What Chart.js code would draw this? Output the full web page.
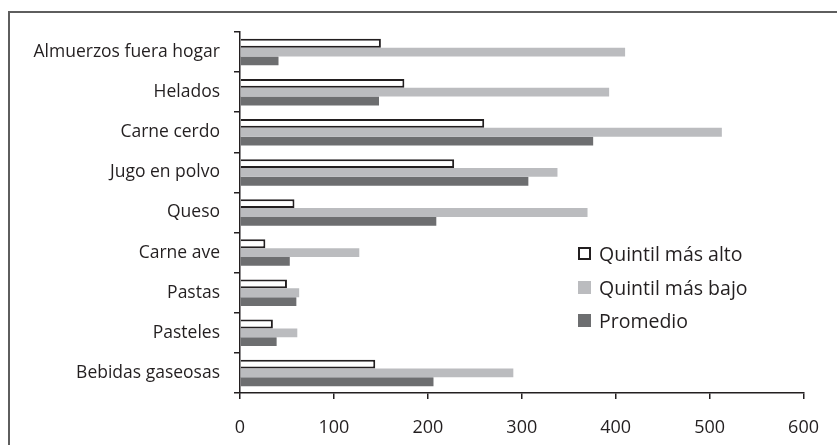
<!DOCTYPE html>
<html lang="es">
<head>
    <meta charset="UTF-8">
    <title>Gasto por producto</title>
    <script src="https://cdn.jsdelivr.net/npm/chart.js"></script>
    <style>
        body {
            margin: 0;
            background-color: #fff;
            font-family: "Open Sans", sans-serif;
            overflow: hidden;
        }
        .wrap {
            position: relative;
            width: 837px;
            height: 445px;
        }
        .frame {
            position: absolute;
            left: 8px;
            top: 11px;
            width: 900px;
            height: 500px;
            border: 2px solid #5e5e5e;
        }
        canvas {
            position: absolute;
            left: 0;
            top: 0;
        }
        .legend {
            position: absolute;
            left: 578px;
            top: 237px;
            color: #231f20;
            font-size: 19.5px;
        }
        .legend div {
            display: flex;
            align-items: center;
            height: 33.5px;
        }
        .legend span.box {
            display: inline-block;
            width: 13px;
            height: 13px;
            margin-right: 8px;
            box-sizing: border-box;
        }
    </style>
</head>
<body>
    <div class="wrap">
        <div class="frame"></div>
        <canvas id="chart" width="837" height="445"></canvas>
        <div class="legend" id="legend"></div>
    </div>

    <script>
        // data
        var categories = ['Almuerzos fuera hogar', 'Helados', 'Carne cerdo', 'Jugo en polvo', 'Queso',
                          'Carne ave', 'Pastas', 'Pasteles', 'Bebidas gaseosas'];
        var quintilAlto = [150, 175, 260, 228, 58, 27, 50, 35, 144];
        var quintilBajo = [410, 393, 513, 338, 370, 127, 63, 61, 291];
        var promedio = [41, 148, 376, 307, 209, 53, 60, 39, 206];
        var xTicks = [0, 100, 200, 300, 400, 500, 600];

        var textColor = '#231f20';
        var font = { family: '"Open Sans", sans-serif', size: 17.5 };

        var datasets = [
            { label: 'Quintil más alto', data: quintilAlto, backgroundColor: '#ffffff', borderColor: '#231f20', borderWidth: 2 },
            { label: 'Quintil más bajo', data: quintilBajo, backgroundColor: '#bbbcbf', borderWidth: 0 },
            { label: 'Promedio', data: promedio, backgroundColor: '#6d6e70', borderWidth: 0 }
        ];

        var ctx = document.getElementById('chart').getContext('2d');
        var chart = new Chart(ctx, {
            type: 'bar',
            data: { labels: categories, datasets: datasets },
            options: {
                indexAxis: 'y',
                responsive: false,
                animation: false,
                layout: { padding: { left: 10, top: 32, right: 29, bottom: 0 } },
                categoryPercentage: 0.66,
                barPercentage: 1.0,
                plugins: {
                    legend: { display: false },
                    tooltip: { enabled: false }
                },
                scales: {
                    x: {
                        min: 0,
                        max: 600,
                        afterBuildTicks: function (axis) {
                            axis.ticks = xTicks.map(function (v) { return { value: v }; });
                        },
                        afterFit: function (axis) { axis.height = 52; },
                        grid: { drawOnChartArea: false, tickLength: 6, color: textColor, lineWidth: 1.5 },
                        border: { color: textColor, width: 1.5 },
                        ticks: { color: textColor, font: { family: font.family, size: 18 }, padding: 18, maxRotation: 0 }
                    },
                    y: {
                        afterFit: function (axis) { axis.width = 230; },
                        grid: { drawOnChartArea: false, tickLength: 6, color: textColor, lineWidth: 1.5 },
                        border: { color: textColor, width: 1.5 },
                        ticks: { color: textColor, font: font, padding: 14 }
                    }
                }
            }
        });

        // legend inside the plot, like the original
        var legend = document.getElementById('legend');
        datasets.forEach(function (ds) {
            var row = document.createElement('div');
            var box = document.createElement('span');
            box.className = 'box';
            box.style.background = ds.backgroundColor;
            if (ds.borderWidth) box.style.border = '2px solid ' + ds.borderColor;
            row.appendChild(box);
            row.appendChild(document.createTextNode(ds.label));
            legend.appendChild(row);
        });
    </script>
</body>
</html>
